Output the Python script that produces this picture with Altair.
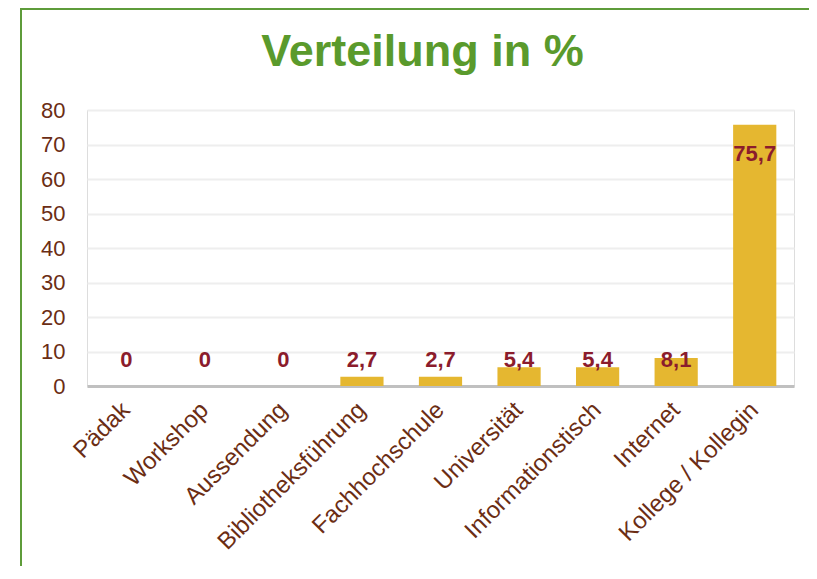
import altair as alt
import pandas as pd

categories = ["Pädak", "Workshop", "Aussendung", "Bibliotheksführung", "Fachhochschule",
              "Universität", "Informationstisch", "Internet", "Kollege / Kollegin"]
values = [0, 0, 0, 2.7, 2.7, 5.4, 5.4, 8.1, 75.7]
value_labels = ["0", "0", "0", "2,7", "2,7", "5,4", "5,4", "8,1", "75,7"]

df = pd.DataFrame({"cat": categories, "v": values, "lab": value_labels})

W, H = 707, 276
brown = "#6b2d14"

x_axis = alt.Axis(labelAngle=-45, labelAlign="right", labelBaseline="middle",
                  labelFontSize=24, labelColor=brown, labelPadding=20,
                  ticks=False, domainColor="#c0c0c0", domainWidth=3,
                  labelFont="Liberation Sans", labelOverlap=False, labelLimit=0)
y_axis = alt.Axis(values=list(range(0, 81, 10)), labelFontSize=22, labelColor=brown,
                  labelPadding=22, ticks=False, domain=False, labelOverlap=False,
                  gridColor="#eeeeee", gridWidth=2, labelFont="Liberation Sans")
x_scale = alt.Scale(paddingInner=0.45, paddingOuter=0.225)
y_scale = alt.Scale(domain=[0, 80], nice=False)

bars = alt.Chart(df).mark_bar(color="#e5b730").encode(
    x=alt.X("cat:N", sort=categories, title=None, scale=x_scale, axis=x_axis),
    y=alt.Y("v:Q", title=None, scale=y_scale, axis=y_axis))

texts = alt.Chart(df).transform_calculate(
    ly="datum.v > 20 ? datum.v - 8.5 : 7.5"
).mark_text(font="Liberation Sans", fontSize=22, fontWeight="bold",
            color="#8b1c2c", baseline="middle").encode(
    x=alt.X("cat:N", sort=categories, title=None, scale=x_scale, axis=x_axis),
    y=alt.Y("ly:Q", title=None, scale=y_scale, axis=y_axis),
    text="lab:N")

frame = alt.Chart(pd.DataFrame({"a": [0]})).mark_rect(
    fill=None, stroke="#5e9c3a", strokeWidth=2, clip=False).encode(
    x=alt.value(-66), x2=alt.value(W + 100), y=alt.value(-101), y2=alt.value(H + 300))

chart = alt.layer(frame, bars, texts).properties(
    width=W, height=H,
    autosize=alt.AutoSizeParams(type="none"),
    padding={"left": 79, "top": 102, "right": 15, "bottom": 180},
    title=alt.TitleParams("Verteilung in %", font="Liberation Sans", fontSize=45,
                          fontWeight="bold", color="#5a9a2c", anchor="middle",
                          baseline="alphabetic", dx=-18, offset=-103),
).configure_view(stroke=None).configure(background="white")

chart.save("out.html", embed_options={"renderer": "svg", "actions": False})
